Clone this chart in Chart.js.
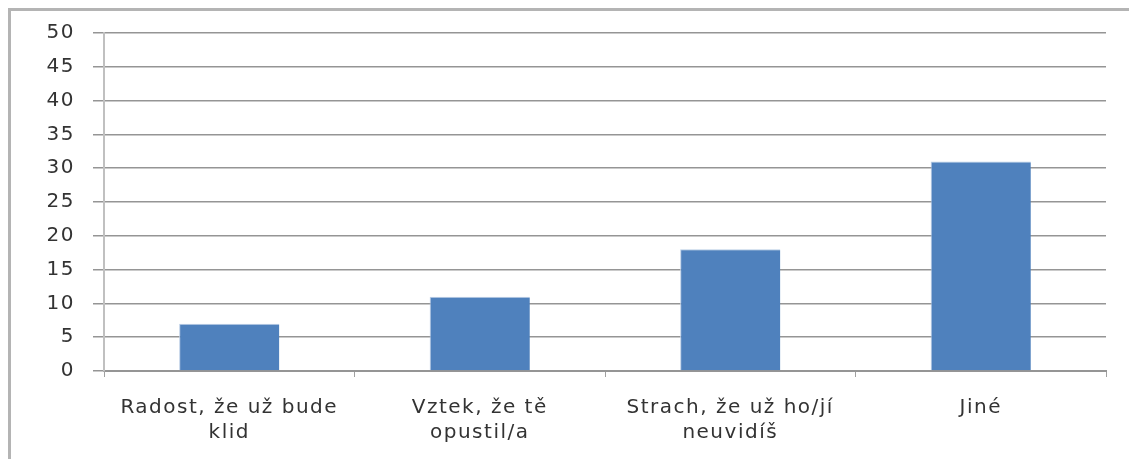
<!DOCTYPE html>
<html>
<head>
<meta charset="utf-8">
<script src="https://cdn.jsdelivr.net/npm/chart.js@4"></script>
<style>
  html, body { margin: 0; padding: 0; background: #fff; }
  #wrap { position: relative; width: 1129px; height: 459px; overflow: hidden; }
  #frame { position: absolute; left: 8px; top: 8px; width: 1140px; height: 470px;
           border: 3px solid #b4b4b4; box-sizing: border-box; }
  canvas { position: absolute; left: 0; top: 0; }
</style>
</head>
<body>
<div id="wrap">
  <div id="frame"></div>
  <canvas id="myChart" width="1129" height="459"></canvas>
</div>
<script>
const categories = [
  ["Radost, že už bude", "klid"],
  ["Vztek, že tě", "opustil/a"],
  ["Strach, že už ho/jí", "neuvidíš"],
  "Jiné",
];
const values = [7, 11, 18, 31];
const yTicks = [0, 5, 10, 15, 20, 25, 30, 35, 40, 45, 50];

const ctx = document.getElementById("myChart");
const textColor = "#333333";
const gridColor = "#959595";

// the reference text is drawn wide, so space the letters out a little
const wideText = {
  id: "wideText",
  beforeDraw: (chart) => { chart.ctx.letterSpacing = "1.5px"; },
};

new Chart(ctx, {
  type: "bar",
  data: {
    labels: categories,
    datasets: [
      {
        label: "values",
        data: values,
        backgroundColor: "#4F81BD",
        borderColor: "#B9CDE5",
        borderWidth: { left: 1, top: 1, right: 0, bottom: 0 },
        categoryPercentage: 1,
        barPercentage: 0.4,
      },
    ],
  },
  plugins: [wideText],
  options: {
    responsive: false,
    animation: false,
    layout: { padding: { left: 0, top: 33, right: 23, bottom: 0 } },
    plugins: {
      legend: { display: false },
      tooltip: { enabled: false },
    },
    scales: {
      x: {
        afterFit: (scale) => { scale.height = 88; },
        border: { color: gridColor, width: 2 },
        grid: { drawOnChartArea: false, drawTicks: true, tickLength: 6, color: "#a0a0a0", lineWidth: 1 },
        ticks: {
          color: textColor,
          padding: 18,
          maxRotation: 0,
          font: { family: "'DejaVu Sans', sans-serif", size: 20, lineHeight: 1.25 },
        },
      },
      y: {
        min: 0,
        max: 50,
        afterFit: (scale) => { scale.width = 104; },
        afterBuildTicks: (scale) => { scale.ticks = yTicks.map((v) => ({ value: v })); },
        border: { color: "#c0c0c0", width: 2 },
        grid: { color: gridColor, lineWidth: 1.5, tickLength: 11 },
        ticks: {
          color: textColor,
          padding: 18,
          font: { family: "'DejaVu Sans', sans-serif", size: 20 },
        },
      },
    },
  },
});
</script>
</body>
</html>
